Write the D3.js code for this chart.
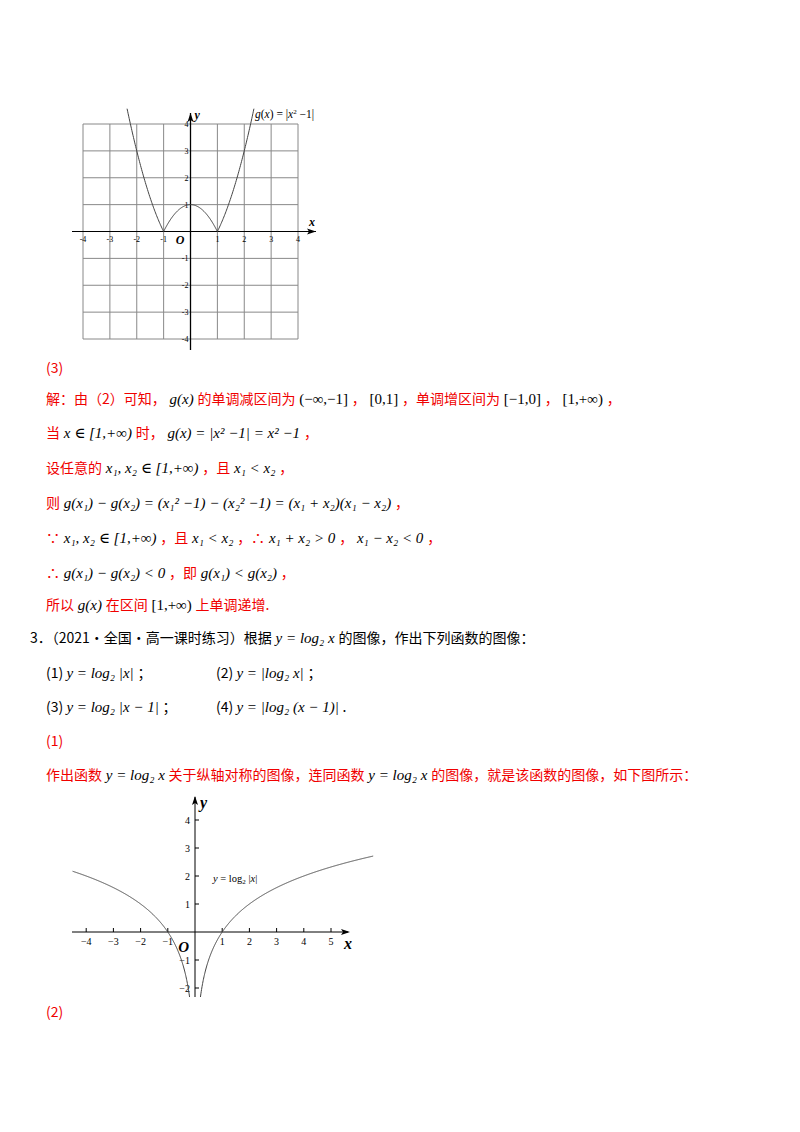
<!DOCTYPE html><html><head><meta charset="utf-8"><script src="https://cdn.jsdelivr.net/npm/d3@7"></script>
<style>body{margin:0;background:#fff}svg{display:block}</style></head><body><svg id="s" width="800" height="1132"></svg>
<script>
const ticks1=[-4,-3,-2,-1,1,2,3,4];
const xs1=d3.range(-2.36,2.361,0.02);
const gFn=x=>Math.abs(x*x-1);
const ticksX2=[-4,-3,-2,-1,1,2,3,4,5];
const ticksY2=[-2,-1,1,2,3,4];
const xsL=d3.range(-4.5,-0.19,0.01), xsR=d3.range(0.19,6.56,0.01);
const hFn=x=>Math.log2(Math.abs(x));
const svg=d3.select("#s");
const serif="'Liberation Serif','DejaVu Serif',serif", cjk="'Noto Sans CJK SC',sans-serif";
// chart 1
const x1=d3.scaleLinear().domain([-4,4]).range([83,298]);
const y1=d3.scaleLinear().domain([-4,4]).range([339,124]);
const g1=svg.append("g");
d3.range(-4,5).forEach(v=>{
 g1.append("line").attr("x1",x1(v)).attr("x2",x1(v)).attr("y1",y1(4)).attr("y2",y1(-4)).attr("stroke","#888").attr("stroke-width",1);
 g1.append("line").attr("y1",y1(v)).attr("y2",y1(v)).attr("x1",x1(-4)).attr("x2",x1(4)).attr("stroke","#888").attr("stroke-width",1);
});
g1.append("line").attr("x1",72).attr("x2",316).attr("y1",y1(0)).attr("y2",y1(0)).attr("stroke","#000");
g1.append("path").attr("d",`M316,${y1(0)} l-9,-3 l2,3 l-2,3z`);
g1.append("line").attr("x1",x1(0)).attr("x2",x1(0)).attr("y1",350).attr("y2",113).attr("stroke","#000").attr("stroke-width",1.3);
g1.append("path").attr("d",`M${x1(0)},113 l-3,9 l3,-2 l3,2z`);
ticks1.forEach(v=>{
 g1.append("text").attr("x",x1(v)).attr("y",y1(0)+10).attr("font-size",8).attr("text-anchor","middle").attr("font-family",serif).text(v);
 g1.append("text").attr("x",x1(0)-2).attr("y",y1(v)+3).attr("font-size",8).attr("text-anchor","end").attr("font-family",serif).text(v);
});
g1.append("text").attr("x",x1(0)-6).attr("y",y1(0)+12).attr("font-size",12).attr("font-style","italic").attr("font-weight","bold").attr("text-anchor","end").attr("font-family",serif).text("O");
g1.append("text").attr("x",309).attr("y",y1(0)-6).attr("font-size",12).attr("font-style","italic").attr("font-weight","bold").attr("font-family",serif).text("x");
g1.append("text").attr("x",x1(0)+4).attr("y",119).attr("font-size",12).attr("font-style","italic").attr("font-weight","bold").attr("font-family",serif).text("y");
g1.append("path").attr("d",d3.line().x(d=>x1(d)).y(d=>y1(gFn(d)))(xs1)).attr("fill","none").attr("stroke","#444").attr("stroke-width",1);
g1.append("text").attr("x",255).attr("y",118).attr("font-size",11.5).attr("font-family",serif).html("<tspan font-style='italic'>g</tspan>(<tspan font-style='italic'>x</tspan>) = |<tspan font-style='italic'>x</tspan><tspan font-size='7' dy='-4'>2</tspan><tspan dy='4'> −1|</tspan>");
// chart 2
const x2=d3.scaleLinear().domain([0,1]).range([195,222.2]);
const y2=d3.scaleLinear().domain([0,1]).range([932,904]);
const g2=svg.append("g");
g2.append("line").attr("x1",72).attr("x2",348).attr("y1",y2(0)).attr("y2",y2(0)).attr("stroke","#000");
g2.append("path").attr("d",`M350,${y2(0)} l-9,-3 l2,3 l-2,3z`);
g2.append("line").attr("x1",x2(0)).attr("x2",x2(0)).attr("y1",997).attr("y2",797).attr("stroke","#000");
g2.append("path").attr("d",`M${x2(0)},796 l-3,9 l3,-2 l3,2z`);
ticksX2.forEach(v=>{
 g2.append("line").attr("x1",x2(v)).attr("x2",x2(v)).attr("y1",y2(0)).attr("y2",y2(0)-4).attr("stroke","#000");
 g2.append("text").attr("x",x2(v)).attr("y",y2(0)+13).attr("font-size",10).attr("text-anchor","middle").attr("font-family",serif).text(v<0?"−"+(-v):v);
});
ticksY2.forEach(v=>{
 g2.append("line").attr("x1",x2(0)).attr("x2",x2(0)+4).attr("y1",y2(v)).attr("y2",y2(v)).attr("stroke","#000");
 g2.append("text").attr("x",x2(0)-5).attr("y",y2(v)+4).attr("font-size",10).attr("text-anchor","end").attr("font-family",serif).text(v<0?"−"+(-v):v);
});
g2.append("text").attr("x",x2(0)-6).attr("y",y2(0)+20).attr("font-size",15).attr("font-style","italic").attr("font-weight","bold").attr("text-anchor","end").attr("font-family",serif).text("O");
g2.append("text").attr("x",344).attr("y",y2(0)+17).attr("font-size",16).attr("font-style","italic").attr("font-weight","bold").attr("font-family",serif).text("x");
g2.append("text").attr("x",x2(0)+5).attr("y",808).attr("font-size",16).attr("font-style","italic").attr("font-weight","bold").attr("font-family",serif).text("y");
const ln2=d3.line().x(d=>x2(d)).y(d=>y2(hFn(d)));
[xsL,xsR].forEach(a=>g2.append("path").attr("d",ln2(a.filter(d=>hFn(d)>=-2.35))).attr("fill","none").attr("stroke","#444").attr("stroke-width",1));
g2.append("text").attr("x",213).attr("y",882).attr("font-size",10.5).attr("font-family",serif).html("<tspan font-style='italic'>y</tspan> = log<tspan font-size='7' dy='2'>2</tspan><tspan dy='-2'> |</tspan><tspan font-style='italic'>x</tspan>|");
// text lines
const R="#f00000";
const lines=[
 [373,[["(3)",R,cjk]]],
 [404,[["解：由（2）可知，",R,cjk],["g(x)","#000",serif,1],["的单调减区间为",R,cjk],["(−∞,−1]","#000",serif],["，",R,cjk],["[0,1]","#000",serif],["，单调增区间为",R,cjk],["[−1,0]","#000",serif],["，",R,cjk],["[1,+∞)","#000",serif],["，",R,cjk]]],
 [438,[["当",R,cjk],["x ∈ [1,+∞)","#000",serif,1],["时，",R,cjk],["g(x) = |x² −1| = x² −1","#000",serif,1],["，",R,cjk]]],
 [473,[["设任意的",R,cjk],["x₁, x₂ ∈ [1,+∞)","#000",serif,1],["，且",R,cjk],["x₁ < x₂","#000",serif,1],["，",R,cjk]]],
 [508,[["则",R,cjk],["g(x₁) − g(x₂) = (x₁² −1) − (x₂² −1) = (x₁ + x₂)(x₁ − x₂)","#000",serif,1],["，",R,cjk]]],
 [543,[["∵",R,cjk],["x₁, x₂ ∈ [1,+∞)","#000",serif,1],["，且",R,cjk],["x₁ < x₂","#000",serif,1],["，∴",R,cjk],["x₁ + x₂ > 0","#000",serif,1],["，",R,cjk],["x₁ − x₂ < 0","#000",serif,1],["，",R,cjk]]],
 [578,[["∴",R,cjk],["g(x₁) − g(x₂) < 0","#000",serif,1],["，即",R,cjk],["g(x₁) < g(x₂)","#000",serif,1],["，",R,cjk]]],
 [610,[["所以",R,cjk],["g(x)","#000",serif,1],["在区间",R,cjk],["[1,+∞)","#000",serif],["上单调递增.",R,cjk]]],
 [643,[["3．（2021·全国·高一课时练习）根据","#000",cjk],["y = log₂ x","#000",serif,1],["的图像，作出下列函数的图像：","#000",cjk]]],
 [678,[["(1) ","#000",cjk],["y = log₂ |x|","#000",serif,1],["；","#000",cjk]]],
 [712,[["(3) ","#000",cjk],["y = log₂ |x − 1|","#000",serif,1],["；","#000",cjk]]],
 [746,[["(1)",R,cjk]]],
 [780,[["作出函数",R,cjk],["y = log₂ x","#000",serif,1],["关于纵轴对称的图像，连同函数",R,cjk],["y = log₂ x","#000",serif,1],["的图像，就是该函数的图像，如下图所示：",R,cjk]]],
 [1017,[["(2)",R,cjk]]]
];
function put(x,y,parts){const t=svg.append("text").attr("x",x).attr("y",y).attr("font-size",14);
 parts.forEach(p=>t.append("tspan").attr("fill",p[1]).attr("font-family",p[2]).attr("font-size",p[2]===serif?15:14).attr("font-style",p[3]?"italic":null).text(p[2]===serif?" "+p[0]+" ":p[0]));}
lines.forEach(l=>put(l[0]===643?30:46,l[0],l[1]));
put(216,678,[["(2) ","#000",cjk],["y = |log₂ x|","#000",serif,1],["；","#000",cjk]]);
put(216,712,[["(4) ","#000",cjk],["y = |log₂ (x − 1)|","#000",serif,1],[".","#000",cjk]]);
</script></body></html>
